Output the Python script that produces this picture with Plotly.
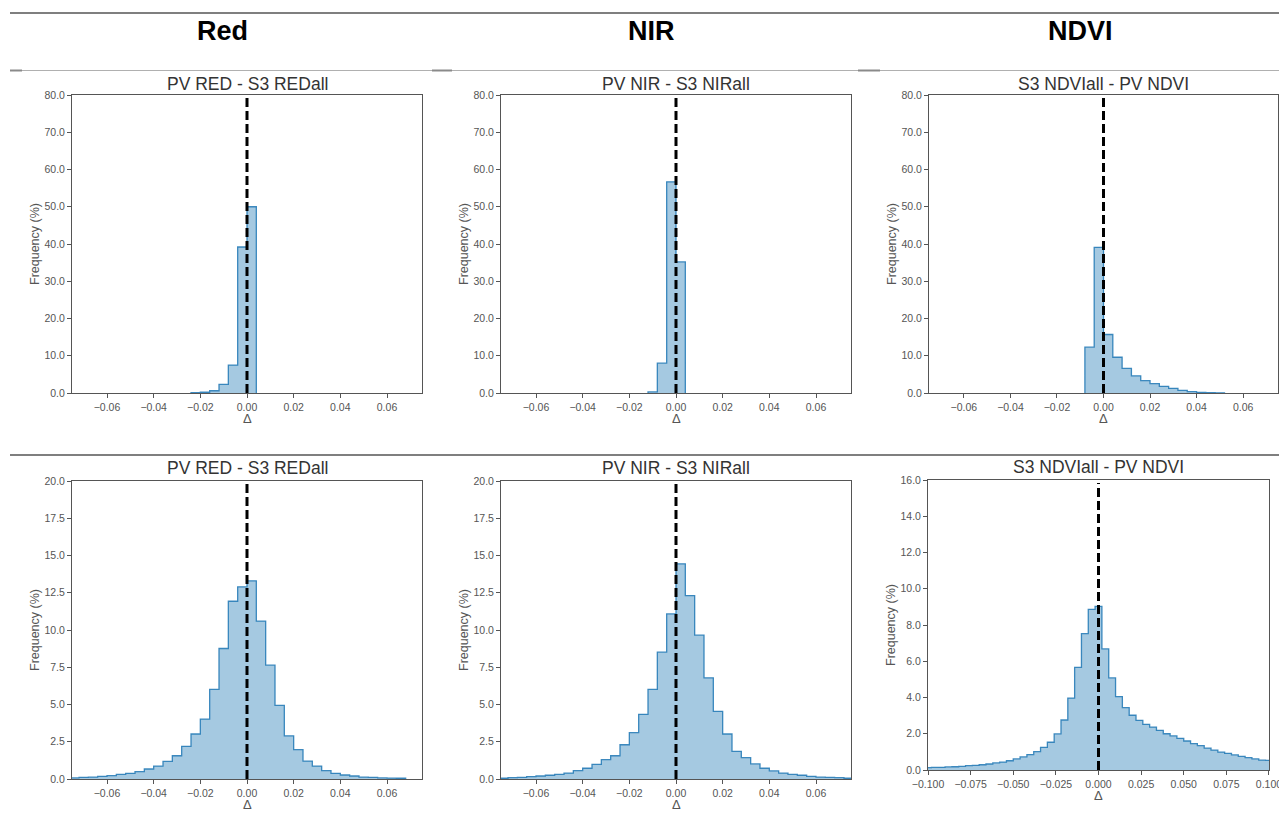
import plotly.graph_objects as go

# ---------------- data (frequency %, bin width 0.004) ----------------
bin_width = 0.004

red_top_start = -0.024
red_top_freq = [0.1, 0.2, 0.6, 2.3, 7.5, 39.2, 50.0]

nir_top_start = -0.012
nir_top_freq = [0.3, 8.0, 56.7, 35.2]

ndvi_top_start = -0.008
ndvi_top_freq = [12.3, 39.1, 15.7, 9.6, 6.6, 4.6, 3.3, 2.5, 1.8, 1.25, 0.7, 0.36, 0.15, 0.08, 0.04]

red_bot_start = -0.076
red_bot_freq = [0.07, 0.11, 0.13, 0.18, 0.22, 0.31, 0.38, 0.49, 0.67, 0.87, 1.18, 1.56, 2.19, 3.02,
                4.02, 6.01, 8.76, 11.93, 12.9,
                13.3, 10.6, 7.64, 4.94, 2.9, 1.97, 1.2, 0.87, 0.56, 0.38, 0.27, 0.2, 0.13, 0.11,
                0.07, 0.06, 0.05]

nir_bot_start = -0.076
nir_bot_freq = [0.05, 0.09, 0.11, 0.16, 0.20, 0.25, 0.31, 0.40, 0.56, 0.72, 0.98, 1.30, 1.56, 2.30,
                3.11, 4.34, 6.01, 8.51, 11.08,
                14.44, 12.31, 9.65, 6.79, 4.54, 3.02, 1.85, 1.43, 1.01, 0.72, 0.54, 0.40, 0.31,
                0.25, 0.18, 0.13, 0.11, 0.09, 0.05]

ndvi_bot_start = -0.102
ndvi_bot_freq = [0.13, 0.14, 0.15, 0.17, 0.18, 0.20, 0.24, 0.26, 0.29, 0.33, 0.39, 0.44, 0.51, 0.61,
                 0.72, 0.85, 1.01, 1.25, 1.53, 1.99, 2.76, 3.97, 5.66, 7.52, 8.86,
                 9.03, 6.68, 5.08, 4.05, 3.44, 3.02, 2.74, 2.52, 2.37, 2.19, 2.00, 1.88, 1.75, 1.60,
                 1.45, 1.34, 1.21, 1.10, 0.99, 0.92, 0.83, 0.75, 0.68, 0.61, 0.55, 0.53]

column_headers = ["Red", "NIR", "NDVI"]
titles = ["PV RED - S3 REDall", "PV NIR - S3 NIRall", "S3 NDVIall - PV NDVI"]
x_ticks_small = [-0.06, -0.04, -0.02, 0.0, 0.02, 0.04, 0.06]
x_ticks_wide = [-0.1, -0.075, -0.05, -0.025, 0.0, 0.025, 0.05, 0.075, 0.1]
y_ticks_top = [0, 10, 20, 30, 40, 50, 60, 70, 80]
y_ticks_bot = [0, 2.5, 5, 7.5, 10, 12.5, 15, 17.5, 20]
y_ticks_ndvi_bot = [0, 2, 4, 6, 8, 10, 12, 14, 16]

# ---------------- layout helpers ----------------
W, H = 1279, 833
def px(x): return x / W
def py(y): return 1 - y / H

FONT = "Liberation Sans, Arial, sans-serif"
TICK_C = "#555555"
TITLE_C = "#333333"

panels = [
    dict(title=titles[0], start=red_top_start, freq=red_top_freq, box=(72, 422, 95, 393),
         xr=[-0.075, 0.075], xt=x_ticks_small, xf=".2f", yr=[0, 80], yt=y_ticks_top, xl_y=419, ttl_y=84),
    dict(title=titles[1], start=nir_top_start, freq=nir_top_freq, box=(501, 851, 95, 393),
         xr=[-0.075, 0.075], xt=x_ticks_small, xf=".2f", yr=[0, 80], yt=y_ticks_top, xl_y=419, ttl_y=84),
    dict(title=titles[2], start=ndvi_top_start, freq=ndvi_top_freq, box=(929, 1278, 95, 393),
         xr=[-0.075, 0.075], xt=x_ticks_small, xf=".2f", yr=[0, 80], yt=y_ticks_top, xl_y=419, ttl_y=84),
    dict(title=titles[0], start=red_bot_start, freq=red_bot_freq, box=(72, 422, 481, 779),
         xr=[-0.075, 0.075], xt=x_ticks_small, xf=".2f", yr=[0, 20], yt=y_ticks_bot, xl_y=804, ttl_y=468),
    dict(title=titles[1], start=nir_bot_start, freq=nir_bot_freq, box=(501, 851, 481, 779),
         xr=[-0.075, 0.075], xt=x_ticks_small, xf=".2f", yr=[0, 20], yt=y_ticks_bot, xl_y=804, ttl_y=468),
    dict(title=titles[2], start=ndvi_bot_start, freq=ndvi_bot_freq, box=(928, 1269, 480, 770),
         xr=[-0.10001, 0.10001], xt=x_ticks_wide, xf=".3f", yr=[0, 16], yt=y_ticks_ndvi_bot, xl_y=795, ttl_y=467),
]

fig = go.Figure()
shapes = []
annotations = []
layout_axes = {}

for i, p in enumerate(panels, start=1):
    xa = "x" if i == 1 else f"x{i}"
    ya = "y" if i == 1 else f"y{i}"
    l, r, t, b = p["box"]
    n = len(p["freq"])
    edges = [p["start"] + k * bin_width for k in range(n + 1)]
    xs = [edges[0]] + edges[:n] + [edges[n], edges[n]]
    ys = [0] + list(p["freq"]) + [p["freq"][-1], 0]
    fig.add_trace(go.Scatter(
        x=xs, y=ys, mode="lines", line=dict(shape="hv", color="rgba(31,119,180,0.85)", width=1.3),
        fill="tozeroy", fillcolor="rgba(31,119,180,0.4)", xaxis=xa, yaxis=ya,
        showlegend=False, hoverinfo="skip"))
    common = dict(showline=True, mirror=True, linecolor="#555555", linewidth=1, ticks="outside", ticklen=4,
                  tickwidth=1, tickcolor="#555555", tickfont=dict(family=FONT, size=10.5, color=TICK_C),
                  showgrid=False, zeroline=False, fixedrange=True, automargin=False,
                  ticklabeloverflow="allow")
    layout_axes["xaxis" if i == 1 else f"xaxis{i}"] = dict(
        domain=[px(l), px(r)], anchor=ya, range=p["xr"], tickvals=p["xt"], tickformat=p["xf"], **common)
    layout_axes["yaxis" if i == 1 else f"yaxis{i}"] = dict(
        domain=[py(b), py(t)], anchor=xa, range=p["yr"], tickvals=p["yt"], tickformat=".1f", **common)
    # dashed zero line
    shapes.append(dict(type="line", xref=xa, yref=f"{ya} domain", x0=0, x1=0, y0=0, y1=0.99,
                       line=dict(color="black", width=3, dash="9px,4px"), layer="above"))
    # subplot title
    annotations.append(dict(text=p["title"], xref="paper", yref="paper", x=px((l + r) / 2), y=py(p["ttl_y"]),
                            xanchor="center", yanchor="middle", showarrow=False,
                            font=dict(family=FONT, size=17.5, color=TITLE_C)))
    # axis labels
    annotations.append(dict(text="Δ", xref=xa, yref="paper", x=0, y=py(p["xl_y"]),
                            xanchor="center", yanchor="middle", showarrow=False,
                            font=dict(family=FONT, size=13, color=TICK_C)))
    annotations.append(dict(text="Frequency (%)", xref="paper", yref="paper", x=px(l - 37), y=py((t + b) / 2),
                            xanchor="center", yanchor="middle", showarrow=False, textangle=-90,
                            font=dict(family=FONT, size=12.5, color=TICK_C)))

# column headers
for name, cx in zip(column_headers, [222, 651, 1080]):
    annotations.append(dict(text=f"<b>{name}</b>", xref="paper", yref="paper", x=px(cx), y=py(31),
                            xanchor="center", yanchor="middle", showarrow=False,
                            font=dict(family=FONT, size=27, color="black")))

# table-like rules
def hline(y, x0, x1, color, width):
    shapes.append(dict(type="line", xref="paper", yref="paper", x0=px(x0), x1=px(x1), y0=py(y), y1=py(y),
                       line=dict(color=color, width=width)))

hline(13, 10, 1279, "#7f7f7f", 2)
hline(70.5, 10, 1279, "#b0b0b0", 1)
for a, c in [(10, 22), (432, 452), (858, 880)]:
    hline(70.5, a, c, "#8a8a8a", 2)
hline(455, 10, 1279, "#7f7f7f", 2)

fig.update_layout(
    template="none",
    width=W, height=H, margin=dict(l=0, r=0, t=0, b=0, pad=0), autosize=False,
    paper_bgcolor="white", plot_bgcolor="white",
    shapes=shapes, annotations=annotations, showlegend=False,
    font=dict(family=FONT), **layout_axes)

fig.write_html("out.html")
